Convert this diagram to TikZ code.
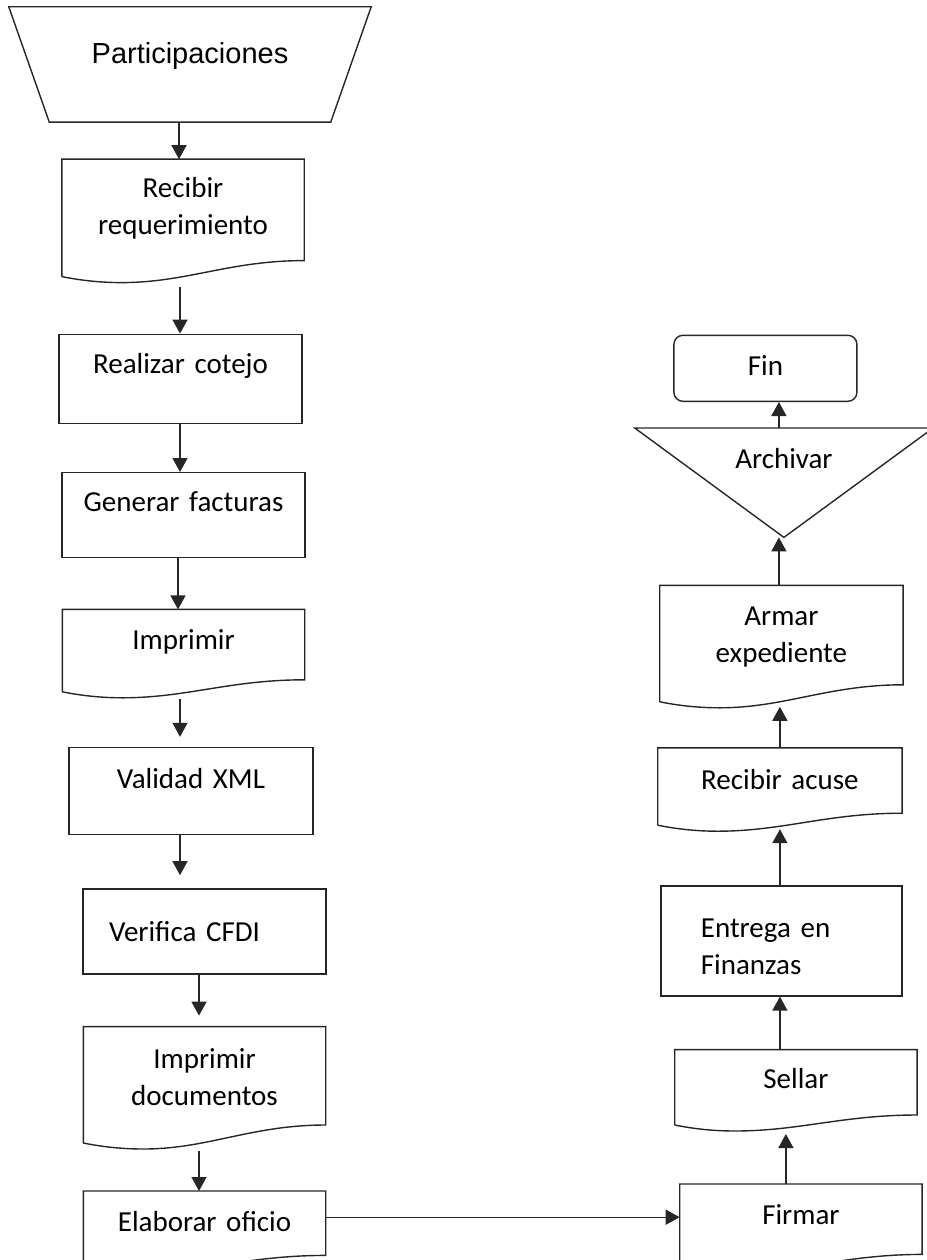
\documentclass[tikz,border=0pt]{standalone}
\usepackage{fontspec}
\setmainfont{Carlito}
\newfontfamily\arialfont{Liberation Sans}
\usetikzlibrary{positioning,arrows.meta}

\tikzset{
  boxline/.style={draw=black!85, line width=1.4pt},
  boxtext/.style={inner sep=0pt, text height=30pt, align=center, text width=232pt, font=\fontsize{29}{37}\selectfont},
  procbox/.style={boxtext, rectangle, boxline, minimum width=243pt},
  docbox/.style={boxtext, rectangle, minimum width=242pt,
    append after command={\pgfextra{\let\doclast\tikzlastnode
      \draw[boxline] (\doclast.south west) -- (\doclast.north west) -- (\doclast.north east)
        -- ([yshift=#1]\doclast.south east)
        .. controls +(-75pt,0pt) and +(65pt,0pt) .. ([xshift=60pt,yshift=-6pt]\doclast.south west)
        .. controls +(-25pt,0pt) and +(15pt,-3pt) .. (\doclast.south west);}}},
  docbox/.default=14pt,
  inputbox/.style={boxtext, rectangle, minimum width=362pt, minimum height=115pt, font=\arialfont\fontsize{29}{35}\selectfont,
    append after command={\pgfextra{\let\inlast\tikzlastnode
      \draw[boxline] (\inlast.north west) -- (\inlast.north east)
        -- ([xshift=-40.5pt]\inlast.south east) -- ([xshift=40.5pt]\inlast.south west) -- cycle;}}},
  storebox/.style={boxtext, rectangle, minimum width=298pt, minimum height=109pt,
    append after command={\pgfextra{\let\stlast\tikzlastnode
      \draw[boxline] (\stlast.north west) -- (\stlast.north east) -- (\stlast.south) -- cycle;}}},
  endbox/.style={boxtext, rectangle, boxline, rounded corners=9pt, minimum width=183pt, text width=170pt},
  flow/.style={boxline, ->}
}

\begin{document}
\begin{tikzpicture}[>={Triangle[width=15pt,length=14pt]}]
\useasboundingbox (0,0) rectangle (926pt,-1260pt);

% left column
\node[inputbox, text depth=32pt] (Part) at (190pt,-64.5pt) {Participaciones};
\node[docbox=16pt, minimum height=117pt, text depth=71pt, below=37pt of Part, xshift=-7pt] (RecReq) {Recibir\\requerimiento};
\node[procbox, minimum height=89pt, text depth=41pt, below=57pt of RecReq, xshift=-2.5pt] (Realizar) {Realizar cotejo};
\node[procbox, minimum height=85pt, text depth=37pt, below=48pt of Realizar, xshift=3pt] (Generar) {Generar facturas};
\node[docbox=12pt, minimum height=82pt, text depth=32pt, below=51pt of Generar] (Imprimir) {Imprimir};
\node[procbox, minimum width=244pt, minimum height=87pt, text depth=35pt, below=55pt of Imprimir, xshift=7.5pt] (Validad) {Validad XML};
\node[procbox, minimum height=85pt, text depth=9pt, text width=191pt, align=left, below=53pt of Validad, xshift=13.5pt] (Verifica) {Verifica CFDI};
\node[docbox=18pt, minimum height=116pt, text depth=62pt, below=52pt of Verifica] (ImprDoc) {Imprimir\\documentos};
\node[docbox=10pt, minimum height=74pt, text depth=24pt, below=48pt of ImprDoc] (Elaborar) {Elaborar oficio};

% right column
\node[docbox=11pt, minimum height=81pt, text depth=31pt, right=354pt of Elaborar, yshift=3.5pt] (Firmar) {Firmar};
\node[docbox=10pt, minimum height=75pt, text depth=27pt, above=59pt of Firmar, xshift=-5pt] (Sellar) {Sellar};
\node[procbox, minimum width=241pt, minimum height=110pt, text depth=36pt, text width=161pt, align=left, above=53pt of Sellar, xshift=-14.5pt] (Entrega) {Entrega en\\Finanzas};
\node[docbox=12pt, minimum width=244pt, minimum height=77pt, text depth=25pt, above=60pt of Entrega, xshift=-1.5pt] (RecAcuse) {Recibir acuse};
\node[docbox=17pt, minimum width=243pt, minimum height=116pt, text depth=66pt, above=46pt of RecAcuse, xshift=1.5pt] (Armar) {Armar\\expediente};
\node[storebox, text depth=59pt, above=48pt of Armar, xshift=2.5pt] (Archivar) {Archivar};
\node[endbox, minimum height=66pt, text depth=16pt, above=26pt of Archivar, xshift=-18.5pt] (Fin) {Fin};

% arrows
\draw[flow] ([xshift=-11pt]Part.south) -- ([xshift=-4pt]RecReq.north);
\draw[flow] ([xshift=-3pt,yshift=-10pt]RecReq.south) -- ([xshift=-0.5pt]Realizar.north);
\draw[flow] ([xshift=-0.5pt]Realizar.south) -- ([xshift=-3.5pt]Generar.north);
\draw[flow] ([xshift=-5.5pt]Generar.south) -- ([xshift=-5.5pt]Imprimir.north);
\draw[flow, shorten >=10pt] ([xshift=-3.5pt,yshift=-7pt]Imprimir.south) -- ([xshift=-11pt]Validad.north);
\draw[flow, shorten >=13pt] ([xshift=-11pt]Validad.south) -- ([xshift=-24.5pt]Verifica.north);
\draw[flow, shorten >=11pt] ([xshift=-5.5pt]Verifica.south) -- ([xshift=-5.5pt]ImprDoc.north);
\draw[flow] ([xshift=-5.5pt,yshift=-8pt]ImprDoc.south) -- ([xshift=-5.5pt]Elaborar.north);
\draw[flow] ([yshift=11pt]Elaborar.east) -- ([yshift=7.5pt]Firmar.west);
\draw[flow] ([xshift=-15pt]Firmar.north) -- ([xshift=-10pt,yshift=-9pt]Sellar.south);
\draw[flow] ([xshift=-16pt]Sellar.north) -- ([xshift=-1.5pt]Entrega.south);
\draw[flow] ([xshift=-1.5pt]Entrega.north) -- ([yshift=-4pt]RecAcuse.south);
\draw[flow] (RecAcuse.north) -- ([xshift=-1.5pt,yshift=-5pt]Armar.south);
\draw[flow] ([xshift=-2.5pt]Armar.north) -- ([xshift=-5pt]Archivar.south);
\draw[flow] ([xshift=-5pt]Archivar.north) -- ([xshift=13.5pt]Fin.south);
\end{tikzpicture}
\end{document}
